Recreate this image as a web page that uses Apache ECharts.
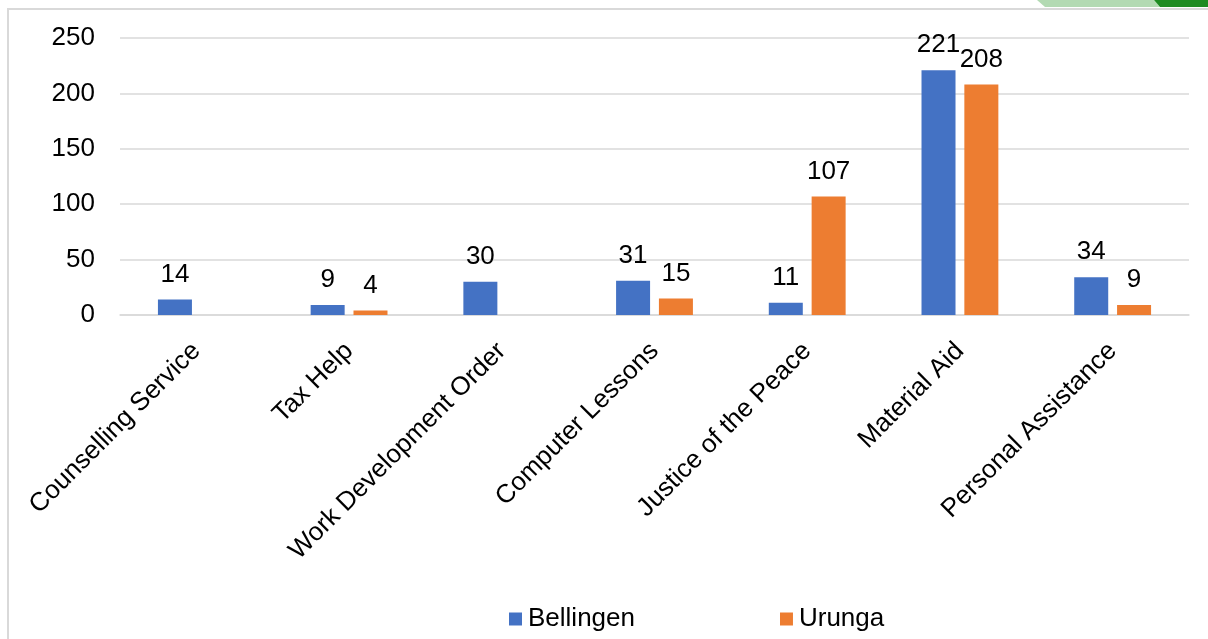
<!DOCTYPE html>
<html>
<head>
<meta charset="utf-8">
<script src="https://cdn.jsdelivr.net/npm/echarts@6/dist/echarts.min.js"></script>
<style>
  html, body { margin: 0; padding: 0; background: #ffffff; }
  #chart { width: 1208px; height: 639px; }
</style>
</head>
<body>
<div id="chart"></div>
<script>
// Service usage by location
const categories = [
  'Counselling Service', 'Tax Help', 'Work Development Order',
  'Computer Lessons', 'Justice of the Peace', 'Material Aid', 'Personal Assistance'
];
const bellingen = [14, 9, 30, 31, 11, 221, 34];
const urunga = [null, 4, null, 15, 107, 208, 9];
const yTicks = [0, 50, 100, 150, 200, 250];

const FONT = 'Liberation Sans, Arial, sans-serif';
const FONT_SIZE = 26;
const GRID_COLOR = '#d9d9d9';

const chart = echarts.init(document.getElementById('chart'), null, { renderer: 'canvas' });

const valueLabel = {
  show: true,
  position: 'top',
  distance: 12,
  color: '#000',
  fontFamily: FONT,
  fontSize: FONT_SIZE
};

chart.setOption({
  animation: false,
  textStyle: { fontFamily: FONT },
  graphic: [
    // outer frame
    {
      type: 'rect',
      shape: { x: 8, y: 9, width: 1300, height: 700 },
      style: { fill: 'none', stroke: '#d9d9d9', lineWidth: 2 },
      silent: true
    },
    // green tabs at top right
    {
      type: 'polygon',
      shape: { points: [[1037, 0], [1154, 0], [1160, 7], [1045, 7]] },
      style: { fill: '#b3dab3' },
      silent: true
    },
    {
      type: 'polygon',
      shape: { points: [[1154, 0], [1208, 0], [1208, 7], [1160, 7]] },
      style: { fill: '#1e8b22' },
      silent: true
    }
  ],
  legend: {
    data: ['Bellingen', 'Urunga'],
    left: 504,
    top: 601,
    itemWidth: 13,
    itemHeight: 13,
    itemGap: 145,
    icon: 'rect',
    textStyle: { color: '#000', fontSize: FONT_SIZE, fontFamily: FONT, padding: [0, 0, 0, 1] }
  },
  grid: {
    left: 120,
    right: 19,
    top: 38,
    bottom: 324,
    containLabel: false
  },
  xAxis: {
    type: 'category',
    data: categories,
    axisLine: { show: true, lineStyle: { color: GRID_COLOR, width: 1.5 } },
    axisTick: { show: false },
    axisLabel: {
      rotate: 45,
      margin: 32,
      interval: 0,
      color: '#000',
      fontSize: FONT_SIZE,
      fontFamily: FONT
    }
  },
  yAxis: {
    type: 'value',
    min: yTicks[0],
    max: yTicks[yTicks.length - 1],
    interval: yTicks[1] - yTicks[0],
    axisLine: { show: false },
    axisTick: { show: false },
    splitLine: { lineStyle: { color: GRID_COLOR, width: 1.5 } },
    axisLabel: {
      margin: 25,
      color: '#000',
      fontSize: FONT_SIZE,
      fontFamily: FONT
    }
  },
  series: [
    {
      name: 'Bellingen',
      type: 'bar',
      data: bellingen,
      barWidth: 34,
      barGap: '26%',
      itemStyle: { color: '#4472c4' },
      label: valueLabel
    },
    {
      name: 'Urunga',
      type: 'bar',
      data: urunga,
      barWidth: 34,
      barGap: '26%',
      itemStyle: { color: '#ed7d31' },
      label: valueLabel
    }
  ]
});
</script>
</body>
</html>
